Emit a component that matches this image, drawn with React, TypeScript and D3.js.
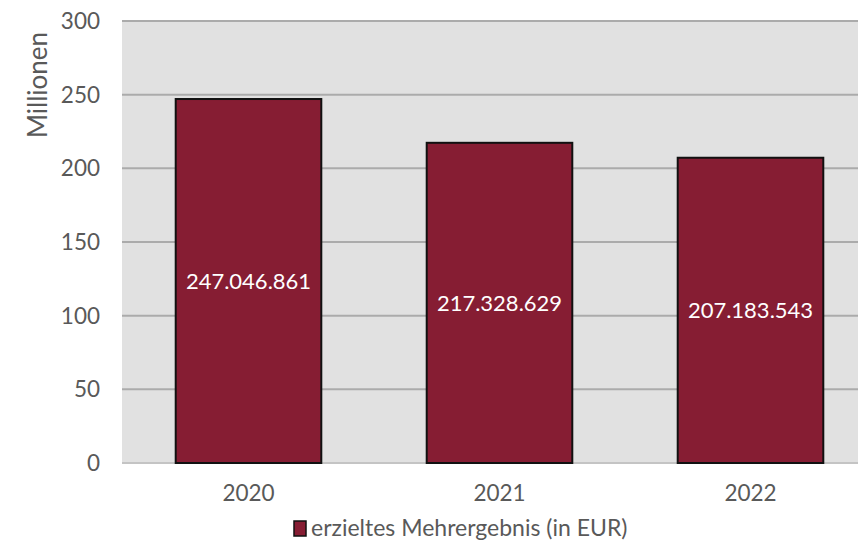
import React from "react";
import * as d3 from "d3";

const years = ["2020", "2021", "2022"];
const values = [247046861, 217328629, 207183543];
const yTicks = [0, 50, 100, 150, 200, 250, 300];
const legendLabel = "erzieltes Mehrergebnis (in EUR)";
const axisTitle = "Millionen";

const W = 858;
const H = 544;
const font = "Lato, 'Open Sans', sans-serif";

export default function App() {
  const x = d3.scaleBand<string>().domain(years).range([123, 876]).paddingInner(0.42).paddingOuter(0.21);
  const y = d3.scaleLinear().domain([0, 300]).range([463, 21]);
  const fmt = (v: number) => d3.format(",")(v).replace(/,/g, ".");
  return (
    <svg width={W} height={H} style={{ position: "absolute", left: 0, top: 0, background: "#fff" }}>
      <rect x={122} y={y(300)} width={W - 122} height={y(0) - y(300)} fill="#e1e1e1" />
      {yTicks.map((t) => (
        <g key={t}>
          {t > 0 && <line x1={122} x2={W} y1={y(t)} y2={y(t)} stroke="#ababab" strokeWidth={2} />}
          <text x={100} y={y(t)} dy="0.36em" textAnchor="end" fontFamily={font} fontSize={22.5} fill="#595959">
            {t}
          </text>
        </g>
      ))}
      <line x1={122} x2={W} y1={y(0)} y2={y(0)} stroke="#c4c4c4" strokeWidth={2} />
      <text
        transform={`translate(47, 85) rotate(-90)`}
        textAnchor="middle"
        fontFamily={font}
        fontSize={26}
        fill="#595959"
      >
        {axisTitle}
      </text>
      {years.map((yr, i) => {
        const v = values[i] / 1e6;
        const bx = x(yr)!;
        const bw = x.bandwidth();
        const top = y(v);
        return (
          <g key={yr}>
            <rect x={bx} y={top} width={bw} height={y(0) - top} fill="#861d33" stroke="#111" strokeWidth={2} />
            <text
              x={bx + bw / 2}
              y={(top + y(0)) / 2}
              dy="0.36em"
              textAnchor="middle"
              fontFamily={font}
              fontSize={22}
              fill="#ffffff"
            >
              {fmt(values[i])}
            </text>
            <text x={bx + bw / 2} y={493} dy="0.36em" textAnchor="middle" fontFamily={font} fontSize={22.5} fill="#595959">
              {yr}
            </text>
          </g>
        );
      })}
      <rect x={294} y={521} width={12} height={15} fill="#861d33" stroke="#111" strokeWidth={1.5} />
      <text x={311} y={528} dy="0.36em" fontFamily={font} fontSize={23} fill="#595959">
        {legendLabel}
      </text>
    </svg>
  );
}
